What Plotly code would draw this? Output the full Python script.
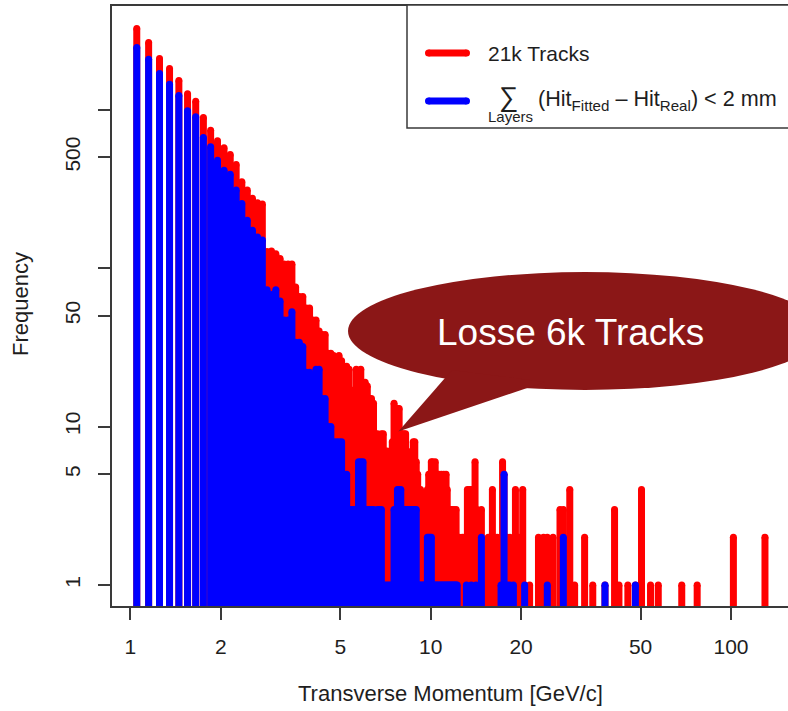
import plotly.graph_objects as go

# ---------------------------------------------------------------------------
# Histogram of transverse momentum (0.1 GeV/c bins), all tracks vs. tracks
# whose summed hit residual over layers is below 2 mm.
# ---------------------------------------------------------------------------

BIN_WIDTH = 0.1
N_DENSE = 120  # bins 1.0-13.0 GeV/c, listed one by one
dense_centres = [round(1.05 + BIN_WIDTH * i, 2) for i in range(N_DENSE)]

all_tracks_dense = [
    3245, 2648, 2100, 1816, 1525, 1256, 1128, 891, 740, 635,
    573, 520, 450, 350, 310, 275, 258, 253, 127, 128,
    123, 115, 106, 106, 106, 76, 66, 66, 56, 56,
    47, 47, 40, 38, 38, 29, 29, 28, 27, 28,
    26, 24, 24, 23, 16, 17, 23, 22, 23, 19,
    19, 18, 15, 15, 14, 9, 9, 8, 9, 9,
    7, 7, 6, 7, 8, 14, 12, 13, 13, 9,
    9, 9, 9, 5, 5, 5, 7, 8, 8, 6,
    5, 4, 4, 3, 3, 3, 3, 4, 5, 5,
    6, 6, 5, 6, 4, 5, 5, 4, 5, 4,
    5, 3, 5, 4, 3, 2, 3, 3, 2, 3,
    2, 3, 2, 1, 2, 1, 1, 2, 1, 2,
]

good_tracks_dense = [
    2460, 2076, 1687, 1445, 1225, 981, 900, 666, 582, 479,
    414, 391, 310, 255, 200, 173, 157, 150, 73, 68,
    73, 62, 47, 47, 53, 34, 34, 32, 22, 22,
    15, 23, 23, 15, 15, 10, 10, 8, 8, 8,
    8, 5, 5, 3, 3, 3, 3, 6, 6, 6,
    3, 3, 3, 3, 3, 2, 3, 3, 3, 1,
    1, 1, 1, 1, 1, 3, 3, 4, 4, 4,
    3, 3, 3, 3, 3, 3, 3, 3, 3, 3,
    1, 1, 1, 1, 1, 1, 1, 2, 2, 2,
    2, 1, 1, 1, 1, 1, 1, 1, 1, 1,
    1, 1, 1, 1, 1, 1, 1, 1, 1, 1,
    1, 1, 1, 0, 0, 0, 0, 0, 0, 0,
]

# sparse high-momentum tail: only non-empty bins
all_tracks_tail_pt = [
    13.15, 13.25, 13.45, 13.65, 13.85, 14.05, 14.15, 14.25, 14.45, 14.75,
    15.05, 15.25, 15.55, 15.85, 16.05, 16.35, 16.65, 16.95, 17.15, 17.35,
    17.55, 17.95, 18.35, 18.85, 19.15, 19.65, 20.25, 20.55, 21.35, 22.85,
    23.75, 24.45, 25.55, 26.95, 27.65, 29.05, 30.15, 32.55, 34.65, 38.05,
    40.95, 42.35, 45.35, 48.05, 50.35, 53.95, 57.25, 68.55, 77.15, 101.85,
    129.75,
]
all_tracks_tail_n = [
    2, 4, 4, 4, 2, 6, 2, 3, 2, 3,
    1, 1, 2, 1, 4, 1, 2, 1, 1, 6,
    5, 2, 2, 1, 4, 2, 4, 1, 1, 2,
    2, 2, 2, 3, 3, 4, 1, 2, 1, 1,
    3, 1, 1, 1, 4, 1, 1, 1, 1, 2,
    2,
]

good_tracks_tail_pt = [13.15, 13.65, 14.15, 14.75, 17.15, 17.55, 17.95, 18.35,
                       18.85, 20.55, 24.45, 27.65, 38.05, 48.05]
good_tracks_tail_n = [1, 1, 1, 2, 1, 5, 1, 1, 1, 1, 1, 2, 1, 1]

x_tickvals = [1, 2, 5, 10, 20, 50, 100]
x_ticktext = ["1", "2", "5", "10", "20", "50", "100"]
y_tickvals = [1, 5, 10, 50, 100, 500, 1000]
y_ticktext = ["1", "5", "10", "50", "", "500", ""]

RED = "#FF0000"
BLUE = "#0000FF"
STEM_W = 7
FLOOR = 0.1  # stems start below the visible range (log of zero)

W, H = 788, 711
PL, PR, PT, PB = 112, 788, 6, 606  # plot-area edges in pixels
FONT = "Liberation Sans, Arial, Helvetica, sans-serif"
INK = "#1e1e1e"
FRAME = "#3a3a3a"


def stems(pts, counts):
    xs, ys, cx, cy = [], [], [], []
    for p, c in zip(pts, counts):
        if c > 0:
            xs += [p, p, None]
            ys += [FLOOR, c, None]
            cx.append(p)
            cy.append(c)
    return xs, ys, cx, cy


def px(x):
    return (x - PL) / (PR - PL)


def py(y):
    return (PB - y) / (PB - PT)


fig = go.Figure()

for pts, cnt, colour in [
    (dense_centres + all_tracks_tail_pt, all_tracks_dense + all_tracks_tail_n, RED),
    (dense_centres + good_tracks_tail_pt, good_tracks_dense + good_tracks_tail_n, BLUE),
]:
    xs, ys, cx, cy = stems(pts, cnt)
    fig.add_trace(go.Scatter(x=xs, y=ys, mode="lines",
                             line=dict(color=colour, width=STEM_W),
                             hoverinfo="skip", showlegend=False))
    # rounded stem ends
    fig.add_trace(go.Scatter(x=cx, y=cy, mode="markers",
                             marker=dict(color=colour, size=STEM_W, line=dict(width=0)),
                             hoverinfo="skip", showlegend=False))

axis_common = dict(showgrid=False, zeroline=False, ticks="outside", ticklen=12,
                   tickwidth=1.5, tickcolor=FRAME, showline=True, linecolor=FRAME,
                   linewidth=1.5, tickfont=dict(family=FONT, size=21, color=INK))

fig.update_xaxes(type="log", range=[-0.06127, 2.18981], tickvals=x_tickvals,
                 ticktext=x_ticktext, mirror=True, ticklabelstandoff=9, **axis_common)
fig.update_yaxes(type="log", range=[-0.1325, 3.653], tickvals=y_tickvals,
                 ticktext=y_ticktext, tickangle=-90, mirror=False,
                 ticklabelstandoff=10, **axis_common)

shapes = []
# legend frame
shapes.append(dict(type="rect", xref="paper", yref="paper",
                   x0=px(407), x1=px(810), y0=py(128), y1=py(5),
                   line=dict(color=FRAME, width=1.5), fillcolor="white", layer="above"))
# legend line samples with round ends
for yy, colour in [(53, RED), (101, BLUE)]:
    shapes.append(dict(type="line", xref="paper", yref="paper",
                       x0=px(428.5), x1=px(466.5), y0=py(yy), y1=py(yy),
                       line=dict(color=colour, width=7)))
    for xe in (428.5, 466.5):
        shapes.append(dict(type="circle", xref="paper", yref="paper",
                           x0=px(xe - 3.5), x1=px(xe + 3.5), y0=py(yy + 3.5), y1=py(yy - 3.5),
                           line=dict(width=0), fillcolor=colour))

# speech bubble
BUBBLE = "#8B1717"
shapes.append(dict(type="circle", xref="paper", yref="paper",
                   x0=px(348), x1=px(822), y0=py(390), y1=py(272),
                   line=dict(width=0), fillcolor=BUBBLE, layer="above"))
tail = [(398.3, 431.5), (452, 370), (545, 382)]
path = "M " + " L ".join(f"{px(a):.5f},{py(b):.5f}" for a, b in tail) + " Z"
shapes.append(dict(type="path", xref="paper", yref="paper", path=path,
                   line=dict(width=0), fillcolor=BUBBLE, layer="above"))

annotations = [
    dict(text="Transverse Momentum [GeV/c]", x=0.5, y=py(693), xref="paper", yref="paper",
         showarrow=False, xanchor="center", yanchor="middle",
         font=dict(family=FONT, size=22, color=INK)),
    dict(text="Frequency", x=px(20), y=py(304), xref="paper", yref="paper",
         showarrow=False, xanchor="center", yanchor="middle", textangle=-90,
         font=dict(family=FONT, size=22, color=INK)),
    dict(text="21k Tracks", x=px(486), y=py(53), xref="paper", yref="paper",
         showarrow=False, xanchor="left", yanchor="middle",
         font=dict(family=FONT, size=21, color=INK)),
    dict(text="\u2211", x=px(509), y=py(97), xref="paper", yref="paper",
         showarrow=False, xanchor="center", yanchor="middle",
         font=dict(family=FONT, size=27, color=INK)),
    dict(text="Layers", x=px(510), y=py(116), xref="paper", yref="paper",
         showarrow=False, xanchor="center", yanchor="middle",
         font=dict(family=FONT, size=15, color=INK)),
    dict(text="(Hit<sub>Fitted</sub> \u2013 Hit<sub>Real</sub>) &lt; 2 mm",
         x=px(536), y=py(100), xref="paper", yref="paper",
         showarrow=False, xanchor="left", yanchor="middle",
         font=dict(family=FONT, size=21.6, color=INK)),
    dict(text="Losse 6k Tracks", x=px(570), y=py(332), xref="paper", yref="paper",
         showarrow=False, xanchor="center", yanchor="middle",
         font=dict(family=FONT, size=37, color="white")),
]

fig.update_layout(width=W, height=H, autosize=False,
                  margin=dict(l=PL, r=W - PR, t=PT, b=H - PB, pad=0),
                  plot_bgcolor="white", paper_bgcolor="white",
                  shapes=shapes, annotations=annotations, showlegend=False)

fig.write_html("out.html")
